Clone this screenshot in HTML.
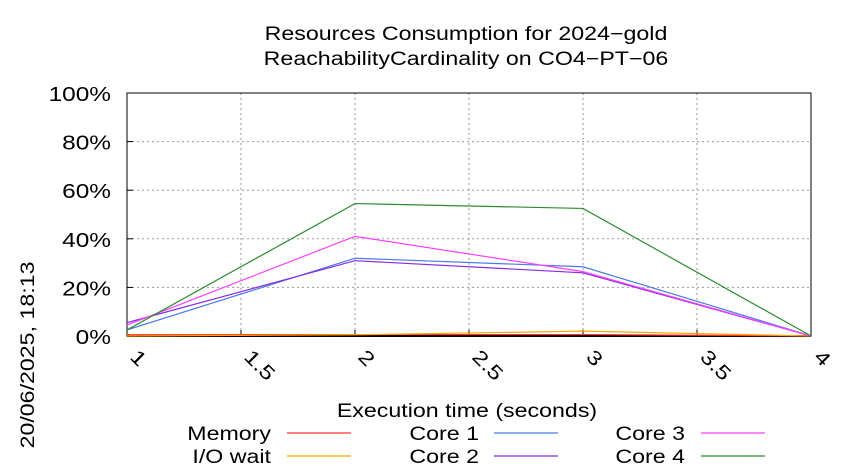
<!DOCTYPE html>
<html><head><meta charset="utf-8"><style>
html,body{margin:0;padding:0;background:#fff;}
svg{display:block;font-family:"Liberation Sans",sans-serif;}
</style></head><body>
<svg id="chart" width="850" height="475" viewBox="0 0 850 475">
<text class="w" x="466" y="40" text-anchor="middle" font-size="19">Resources Consumption for 2024−gold</text>
<text class="w" x="466" y="65" text-anchor="middle" font-size="19">ReachabilityCardinality on CO4−PT−06</text>
<g id="grid"></g>
<g id="axes"></g>
<g id="series"></g>
<text class="w" x="467" y="417" text-anchor="middle" font-size="19">Execution time (seconds)</text>
<text class="w" transform="translate(34,355) rotate(-90)" text-anchor="middle" font-size="19">20/06/2025, 18:13</text>
<g id="legend"></g>
</svg>
<script>
const xValues = [1, 2, 3, 4];
const seriesNames = ["Memory", "I/O wait", "Core 1", "Core 2", "Core 3", "Core 4"];
const memory = [0.5, 0.6, 0.6, 0];
const ioWait = [0, 0.5, 2, 0];
const core1 = [2.5, 32, 28.5, 0];
const core2 = [5.5, 31, 26, 0];
const core3 = [4.5, 41, 26.5, 0];
const core4 = [2.5, 54.5, 52.5, 0];
const xTicks = [1, 1.5, 2, 2.5, 3, 3.5, 4];
const xTickLabels = ["1", "1.5", "2", "2.5", "3", "3.5", "4"];
const yTicks = [0, 20, 40, 60, 80, 100];
const yTickLabels = ["0%", "20%", "40%", "60%", "80%", "100%"];

const colors = ["#ff3030", "#ffa500", "#4a7ae8", "#8a2be2", "#ff40ff", "#2e8b2e"];
const allSeries = [memory, ioWait, core1, core2, core3, core4];
const X0 = 127, X1 = 811, Y0 = 336, Y1 = 93;
const sx = v => X0 + (v - 1) / 3 * (X1 - X0);
const sy = v => Y0 - v / 100 * (Y0 - Y1);
const NS = "http://www.w3.org/2000/svg";
function mk(tag, attrs, parent) {
  const e = document.createElementNS(NS, tag);
  for (const k in attrs) e.setAttribute(k, attrs[k]);
  parent.appendChild(e);
  return e;
}
const grid = document.getElementById("grid");
const axes = document.getElementById("axes");
const series = document.getElementById("series");
const legend = document.getElementById("legend");

yTicks.forEach((t, i) => {
  if (t > 0) {
    const g = mk("line", {x1: X0, x2: X1, y1: sy(t), y2: sy(t), stroke: "#999", "stroke-width": 1, "stroke-dasharray": "2,3"}, grid);
    
    
  }
  const tk = mk("line", {x1: X0, x2: X0 + 6, y1: sy(t), y2: sy(t), stroke: "#000"}, axes);
  
  
  const lb = mk("text", {x: 111, y: sy(t) + 8, "text-anchor": "end", "font-size": 20, class: "w"}, axes);
  lb.textContent = yTickLabels[i];
  
  
});
xTicks.forEach((t, i) => {
  if (t > 1 && t < 4) {
    const g = mk("line", {x1: sx(t), x2: sx(t), y1: Y1, y2: Y0, stroke: "#999", "stroke-width": 1, "stroke-dasharray": "2,3"}, grid);
    
    
  }
  const tk = mk("line", {x1: sx(t), x2: sx(t), y1: Y0, y2: Y0 - 6, stroke: "#000"}, axes);
  
  
  const lb = mk("text", {transform: "translate(" + (sx(t) + 2) + "," + (Y0 + 22) + ") rotate(45)", "font-size": 20, class: "w"}, axes);
  lb.textContent = xTickLabels[i];
  
  
});
const frame = mk("rect", {x: X0, y: Y1, width: X1 - X0, height: Y0 - Y1, fill: "none", stroke: "#000", "stroke-width": 1}, axes);


const base = mk("line", {x1: X0, x2: X1, y1: Y0, y2: Y0, stroke: "#000", "stroke-width": 2}, axes);



allSeries.forEach((vals, si) => {
  const pts = vals.map((v, i) => sx(xValues[i]) + "," + sy(v)).join(" ");
  const pl = mk("polyline", {points: pts, fill: "none", stroke: colors[si], "stroke-width": 1.2}, series);
  
  
});

const colText = [271, 479, 685];
const colLine = [287, 494, 701];
const rowY = [433, 456];
seriesNames.forEach((n, i) => {
  const c = Math.floor(i / 2), r = i % 2;
  const t = mk("text", {x: colText[c], y: rowY[r] + 7, "text-anchor": "end", "font-size": 19, class: "w"}, legend);
  t.textContent = n;
  
  
  const l = mk("line", {x1: colLine[c], x2: colLine[c] + 64, y1: rowY[r], y2: rowY[r], stroke: colors[i], "stroke-width": 1.2}, legend);
  
  
});

document.querySelectorAll("text.w").forEach(t => {
  const w = t.getComputedTextLength();
  t.setAttribute("textLength", (w * 1.22).toFixed(1));
  t.setAttribute("lengthAdjust", "spacingAndGlyphs");
});
</script>
</body></html>
